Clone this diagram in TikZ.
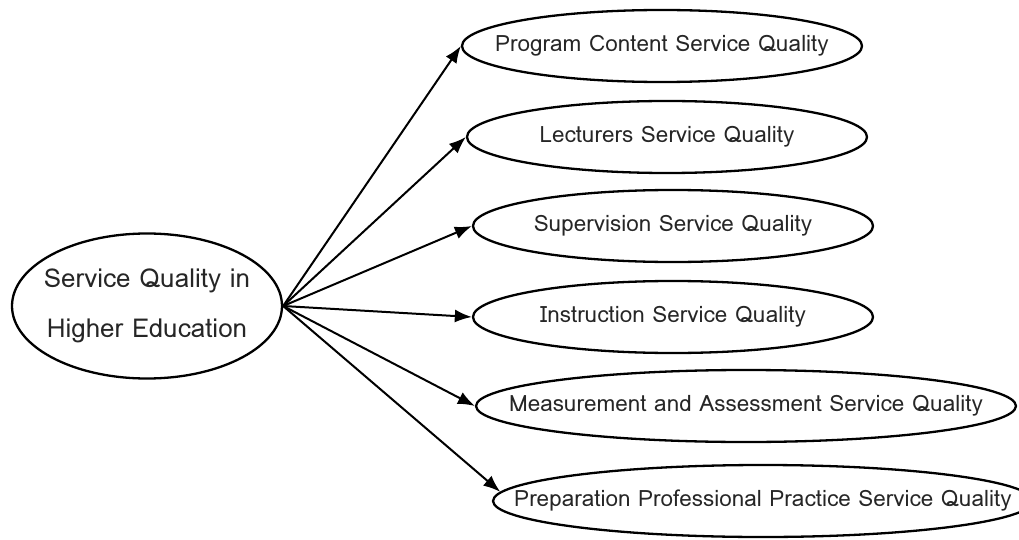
\documentclass[tikz,border=0pt]{standalone}
\usepackage{fontspec}
\setmainfont{Loma}
\usetikzlibrary{arrows.meta, shapes.geometric}

\begin{document}
\begin{tikzpicture}[
        x=1pt, y=-1pt,
        oval/.style={draw, ellipse, line width=2.3pt, inner xsep=-80pt, inner ysep=0pt, minimum height=72pt, text=black!85, font=\fontsize{22.5}{26}\selectfont},
        smalloval/.style={oval, minimum width=400pt},
        wideoval/.style={oval, minimum width=540pt},
        bigoval/.style={oval, minimum width=270pt, minimum height=145pt, align=center, font=\fontsize{26}{50}\selectfont},
        arrow/.style={-{Latex[length=17pt, width=13pt]}, line width=2pt}
    ]
    \useasboundingbox (0,0) rectangle (1019,540);
    \node[bigoval] (sqhe) at (147,306) {Service Quality in\\Higher Education};
    \node[smalloval] (content) at (662,46) {Program Content Service Quality};
    \node[smalloval] (lecturers) at (667,137) {Lecturers Service Quality};
    \node[smalloval] (supervision) at (673,226) {Supervision Service Quality};
    \node[smalloval] (instruction) at (673,317) {Instruction Service Quality};
    \node[wideoval] (assessment) at (746,406) {Measurement and Assessment Service Quality};
    \node[wideoval] (practice) at (763,501) {Preparation Professional Practice Service Quality};
    \draw[arrow] (sqhe.east) -- (content.west);
    \draw[arrow] (sqhe.east) -- (lecturers.west);
    \draw[arrow] (sqhe.east) -- (supervision.west);
    \draw[arrow] (sqhe.east) -- (instruction.west);
    \draw[arrow] (sqhe.east) -- (assessment.west);
    \draw[arrow] (sqhe.east) -- (practice.178);
    \end{tikzpicture}
\end{document}
